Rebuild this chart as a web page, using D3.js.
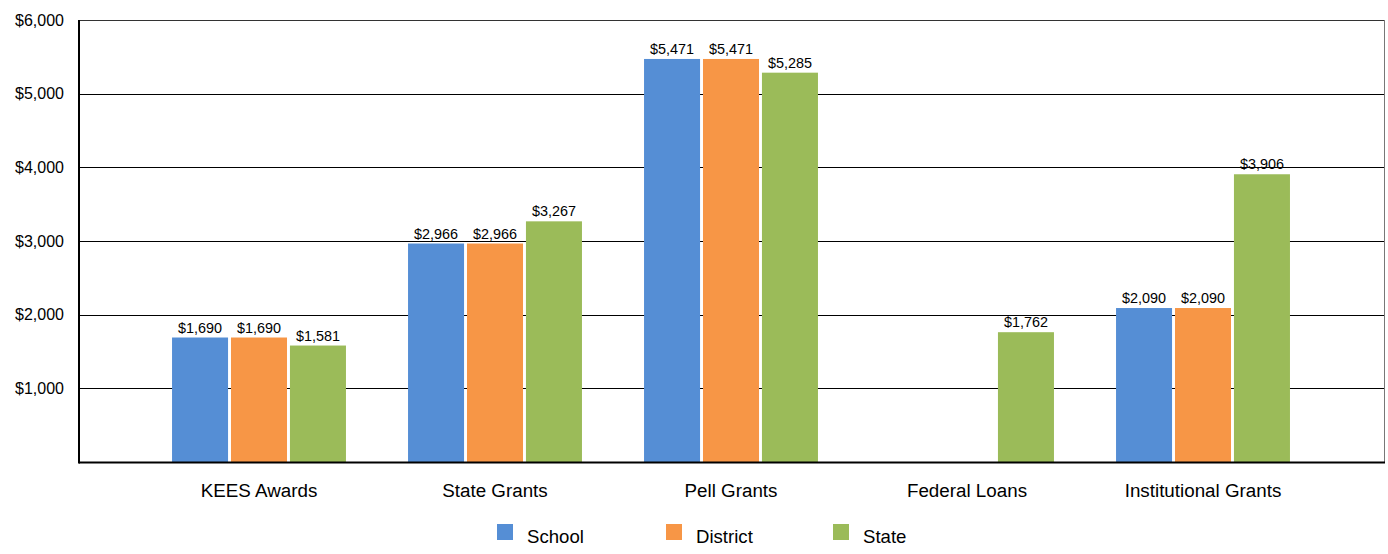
<!DOCTYPE html>
<html>
<head>
<meta charset="utf-8">
<script src="https://cdn.jsdelivr.net/npm/d3@7"></script>
<style>
    body { margin: 0; background: #fff; }
    svg text { font-family: "Liberation Sans", Arial, sans-serif; fill: #000; }
</style>
</head>
<body>
<div id="chart"></div>
<script>
var categories = ["KEES Awards", "State Grants", "Pell Grants", "Federal Loans", "Institutional Grants"];
var seriesNames = ["School", "District", "State"];
var schoolValues = [1690, 2966, 5471, null, 2090];
var districtValues = [1690, 2966, 5471, null, 2090];
var stateValues = [1581, 3267, 5285, 1762, 3906];
var yTicks = [1000, 2000, 3000, 4000, 5000, 6000];
var colors = ["#558ed5", "#f79646", "#9bbb59"];

var width = 1388;
var height = 554;
var plotLeft = 79, plotRight = 1384, plotTop = 20, plotBottom = 462;

var series = [schoolValues, districtValues, stateValues];

var svg = d3.select("#chart")
    .append("svg")
    .attr("width", width)
    .attr("height", height);

var y = d3.scaleLinear().domain([0, 6000]).range([plotBottom, plotTop]);

var x = d3.scaleBand()
    .domain(categories)
    .range([141, 1321])
    .paddingInner(0.263)
    .paddingOuter(0.1315);

var x1 = d3.scaleBand()
    .domain(seriesNames)
    .range([0, x.bandwidth()])
    .paddingInner(0.05);

var fmt = d3.format(",.0f");

// gridlines
svg.append("g")
    .selectAll("line")
    .data(yTicks)
    .enter()
    .append("line")
    .attr("x1", plotLeft)
    .attr("x2", plotRight)
    .attr("y1", function (d) { return Math.round(y(d)) + 0.5; })
    .attr("y2", function (d) { return Math.round(y(d)) + 0.5; })
    .attr("stroke", function (d) { return d == 6000 ? "#333" : "#000"; })
    .attr("stroke-width", 1);

// right border
svg.append("line")
    .attr("x1", plotRight + 0.5).attr("x2", plotRight + 0.5)
    .attr("y1", plotTop).attr("y2", plotBottom)
    .attr("stroke", "#777");

// y tick labels
svg.append("g")
    .selectAll("text")
    .data(yTicks)
    .enter()
    .append("text")
    .attr("x", 64)
    .attr("y", function (d) { return y(d); })
    .attr("dy", "0.35em")
    .attr("text-anchor", "end")
    .style("font-size", "16px")
    .text(function (d) { return "$" + fmt(d); });

// bars
var groups = svg.append("g")
    .selectAll("g")
    .data(categories)
    .enter()
    .append("g")
    .attr("transform", function (d) { return "translate(" + x(d) + ",0)"; });

function groupData(d, i) {
    return seriesNames.map(function (s, j) { return { s: s, j: j, v: series[j][i] }; })
        .filter(function (e) { return e.v != null; });
}

groups.selectAll("rect")
    .data(groupData)
    .enter()
    .append("rect")
    .attr("x", function (d) { return x1(d.s); })
    .attr("width", x1.bandwidth())
    .attr("y", function (d) { return y(d.v); })
    .attr("height", function (d) { return y(0) - y(d.v); })
    .attr("fill", function (d) { return colors[d.j]; });

groups.selectAll("text")
    .data(groupData)
    .enter()
    .append("text")
    .attr("x", function (d) { return x1(d.s) + x1.bandwidth() / 2; })
    .attr("y", function (d) { return y(d.v) - 5; })
    .attr("text-anchor", "middle")
    .style("font-size", "14.4px")
    .text(function (d) { return "$" + fmt(d.v); });

// axes lines
svg.append("line")
    .attr("x1", plotLeft).attr("x2", plotRight + 1)
    .attr("y1", plotBottom + 0.5).attr("y2", plotBottom + 0.5)
    .attr("stroke", "#000").attr("stroke-width", 2);
svg.append("line")
    .attr("x1", plotLeft).attr("x2", plotLeft)
    .attr("y1", plotTop).attr("y2", plotBottom + 1.5)
    .attr("stroke", "#000").attr("stroke-width", 2);

// category labels
svg.append("g")
    .selectAll("text")
    .data(categories)
    .enter()
    .append("text")
    .attr("x", function (d) { return x(d) + x.bandwidth() / 2; })
    .attr("y", 497)
    .attr("text-anchor", "middle")
    .style("font-size", "18.8px")
    .text(function (d) { return d; });

// legend
var legendX = [497, 666, 833];
var legend = svg.append("g")
    .selectAll("g")
    .data(seriesNames)
    .enter()
    .append("g")
    .attr("transform", function (d, i) { return "translate(" + legendX[i] + ",524)"; });

legend.append("rect")
    .attr("width", 16)
    .attr("height", 16)
    .attr("fill", function (d, i) { return colors[i]; });

legend.append("text")
    .attr("x", 30)
    .attr("y", 19)
    .style("font-size", "18.6px")
    .text(function (d) { return d; });
</script>
</body>
</html>
